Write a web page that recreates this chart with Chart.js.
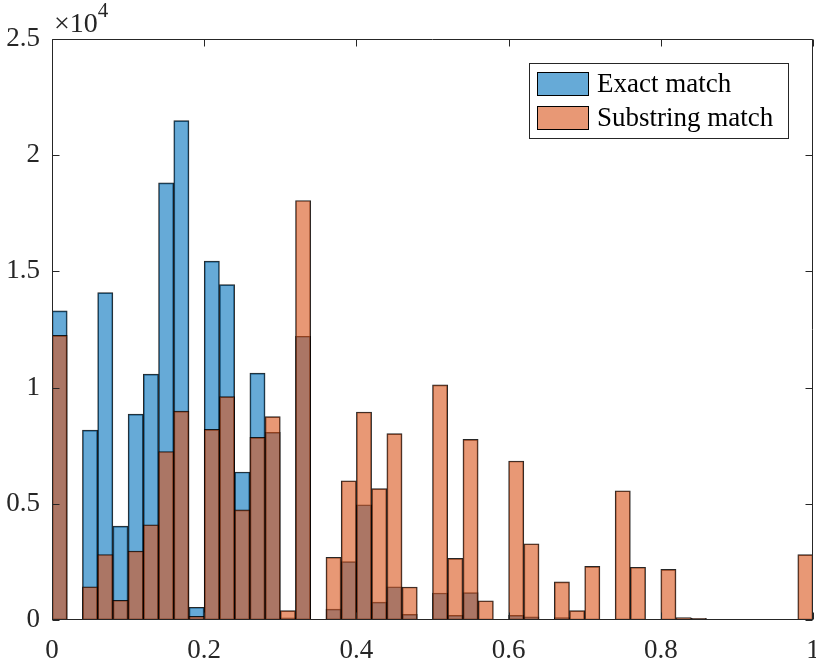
<!DOCTYPE html>
<html>
<head>
<meta charset="utf-8">
<script src="https://cdn.jsdelivr.net/npm/chart.js@4.4.1/dist/chart.umd.min.js"></script>
<style>
  html, body { margin: 0; padding: 0; background: #fff; }
</style>
</head>
<body>
<canvas id="chart" width="816" height="661"></canvas>
<script>
// histogram bins (width 0.02) - centers of each bin
const binCenters = [
  0.01, 0.03, 0.05, 0.07, 0.09, 0.11, 0.13, 0.15, 0.17, 0.19,
  0.21, 0.23, 0.25, 0.27, 0.29, 0.31, 0.33, 0.35, 0.37, 0.39,
  0.41, 0.43, 0.45, 0.47, 0.49, 0.51, 0.53, 0.55, 0.57, 0.59,
  0.61, 0.63, 0.65, 0.67, 0.69, 0.71, 0.73, 0.75, 0.77, 0.79,
  0.81, 0.83, 0.85, 0.87, 0.89, 0.91, 0.93, 0.95, 0.97, 0.99
];

const exactMatch = [
  13300, 0, 8170, 14090, 4040, 8860, 10580, 18810, 21490, 550,
  15440, 14430, 6370, 10620, 8070, 90, 12210, 0, 470, 2510,
  4960, 770, 1430, 240, 0, 1160, 200, 1180, 30, 0,
  200, 140, 0, 100, 0, 0, 0, 0, 0, 0,
  0, 0, 0, 0, 0, 0, 0, 0, 0, 0
];

const substringMatch = [
  12250, 0, 1430, 2820, 850, 2970, 4100, 7250, 8990, 160,
  8200, 9610, 4740, 7860, 8750, 400, 18050, 0, 2700, 5990,
  8950, 5650, 8020, 1420, 0, 10120, 2650, 7770, 830, 0,
  6840, 3280, 0, 1640, 400, 2310, 0, 5560, 2270, 0,
  2180, 100, 70, 0, 0, 0, 0, 0, 0, 2810
];

const seriesNames = ["Exact match", "Substring match"];
const xTicks = [0, 0.2, 0.4, 0.6, 0.8, 1];
const xTickLabels = ["0", "0.2", "0.4", "0.6", "0.8", "1"];
const yTicks = [0, 5000, 10000, 15000, 20000, 25000];
const yTickLabels = ["0", "0.5", "1", "1.5", "2", "2.5"];

const FONT = "'Liberation Serif', 'Times New Roman', serif";
const AXIS = "#262626";
const BLUE = "rgba(0, 114, 189, 0.6)";
const ORANGE = "rgba(217, 83, 25, 0.6)";

// ================= FRAME / TICKS / LEGEND =================
const matlabAxes = {
  id: "matlabAxes",
  afterDatasetsDraw(chart) {
    const { ctx, chartArea: a, scales: { x, y } } = chart;
    const L = Math.round(a.left) + 0.5, R = Math.round(a.right) - 0.5;
    const T = Math.round(a.top) + 0.5, B = Math.round(a.bottom) - 0.5;
    const tl = 7;

    ctx.save();
    ctx.strokeStyle = AXIS;
    ctx.lineWidth = 1;
    ctx.beginPath();
    ctx.rect(L, T, R - L, B - T);

    // inward ticks on all four sides
    yTicks.forEach(v => {
      const py = Math.round(y.getPixelForValue(v)) + 0.5;
      ctx.moveTo(L, py); ctx.lineTo(L + tl, py);
      ctx.moveTo(R, py); ctx.lineTo(R - tl, py);
    });
    xTicks.forEach(v => {
      const px = Math.round(x.getPixelForValue(v)) + 0.5;
      ctx.moveTo(px, B); ctx.lineTo(px, B - tl);
      ctx.moveTo(px, T); ctx.lineTo(px, T + tl);
    });
    ctx.stroke();

    // exponent label
    ctx.fillStyle = AXIS;
    ctx.textBaseline = "alphabetic";
    ctx.textAlign = "left";
    ctx.font = `28px ${FONT}`;
    ctx.fillText("\u00d710", 54, 32);
    const w = ctx.measureText("\u00d710").width;
    ctx.font = `21px ${FONT}`;
    ctx.fillText("4", 54 + w, 17);

    // legend
    const lx = 529.5, ly = 63.5, lw = 259, lh = 75;
    ctx.fillStyle = "#fff";
    ctx.fillRect(lx, ly, lw, lh);
    ctx.strokeStyle = AXIS;
    ctx.strokeRect(lx, ly, lw, lh);

    const items = [
      { label: seriesNames[0], color: BLUE, y: 72 },
      { label: seriesNames[1], color: ORANGE, y: 106 }
    ];
    items.forEach(it => {
      ctx.fillStyle = it.color;
      ctx.fillRect(537, it.y, 52, 24);
      ctx.strokeStyle = "#000";
      ctx.strokeRect(537.5, it.y + 0.5, 51, 23);
      ctx.fillStyle = "#000";
      ctx.font = `27px ${FONT}`;
      ctx.textBaseline = "middle";
      ctx.fillText(it.label, 597, it.y + 13);
    });
    ctx.restore();
  }
};

// ================= CHART =================
const ctx = document.getElementById("chart").getContext("2d");
new Chart(ctx, {
  type: "bar",
  data: {
    datasets: [
      {
        label: seriesNames[0],
        data: binCenters.map((c, i) => ({ x: c, y: exactMatch[i] })),
        backgroundColor: BLUE,
        borderColor: "rgba(0,0,0,0.85)",
        borderWidth: 1,
        borderSkipped: false,
        order: 2
      },
      {
        label: seriesNames[1],
        data: binCenters.map((c, i) => ({ x: c, y: substringMatch[i] })),
        backgroundColor: ORANGE,
        borderColor: "rgba(0,0,0,0.85)",
        borderWidth: 1,
        borderSkipped: false,
        order: 1
      }
    ]
  },
  options: {
    responsive: false,
    animation: false,
    devicePixelRatio: 1,
    layout: { padding: { top: 39, right: 3, left: 0, bottom: 0 } },
    datasets: {
      bar: { barPercentage: 1, categoryPercentage: 1, grouped: false }
    },
    plugins: {
      legend: { display: false },
      tooltip: { enabled: false }
    },
    scales: {
      x: {
        type: "linear",
        min: 0,
        max: 1,
        offset: false,
        grid: { display: false, drawTicks: false, offset: false },
        border: { display: false },
        afterBuildTicks: s => { s.ticks = xTicks.map(v => ({ value: v })); },
        afterFit: s => { s.height = 41; s.paddingLeft = 0; s.paddingRight = 0; },
        ticks: {
          padding: 15,
          color: AXIS,
          font: { family: FONT, size: 27 },
          maxRotation: 0,
          autoSkip: false,
          callback: (v, i) => xTickLabels[i]
        }
      },
      y: {
        min: 0,
        max: 25000,
        grid: { display: false, drawTicks: false },
        border: { display: false },
        afterBuildTicks: s => { s.ticks = yTicks.map(v => ({ value: v })); },
        afterFit: s => { s.width = 52; s.paddingTop = 0; s.paddingBottom = 0; },
        ticks: {
          padding: 12,
          color: AXIS,
          font: { family: FONT, size: 27 },
          callback: (v, i) => yTickLabels[i]
        }
      }
    }
  },
  plugins: [matlabAxes]
});
</script>
</body>
</html>
